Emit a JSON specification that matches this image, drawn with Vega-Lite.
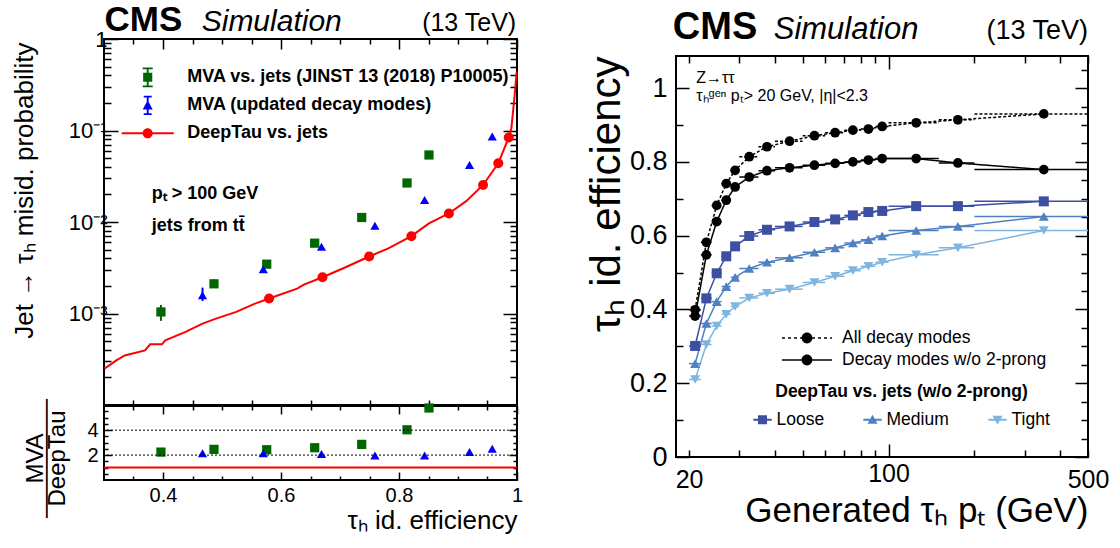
{
  "$schema": "https://vega.github.io/schema/vega-lite/v6.json",
  "background": "white",
  "padding": {"left": 10, "top": 2, "right": 0, "bottom": 0},
  "autosize": {"type": "pad"},
  "datasets": {
    "curve": [
      {"eff": 0.3008, "misid": 0.00025}, {"eff": 0.3208, "misid": 0.000307}, {"eff": 0.3352, "misid": 0.000348},
      {"eff": 0.3695, "misid": 0.000395}, {"eff": 0.3782, "misid": 0.00046}, {"eff": 0.3982, "misid": 0.00046},
      {"eff": 0.4039, "misid": 0.000509}, {"eff": 0.4383, "misid": 0.00063}, {"eff": 0.467, "misid": 0.000776},
      {"eff": 0.4898, "misid": 0.00088}, {"eff": 0.5242, "misid": 0.00104}, {"eff": 0.5529, "misid": 0.00126},
      {"eff": 0.5798, "misid": 0.00146}, {"eff": 0.6273, "misid": 0.00187}, {"eff": 0.6388, "misid": 0.00207},
      {"eff": 0.6703, "misid": 0.00249}, {"eff": 0.7076, "misid": 0.00316}, {"eff": 0.7494, "misid": 0.0042},
      {"eff": 0.782, "misid": 0.00514}, {"eff": 0.821, "misid": 0.007}, {"eff": 0.8508, "misid": 0.00966},
      {"eff": 0.8846, "misid": 0.0124}, {"eff": 0.9139, "misid": 0.0169}, {"eff": 0.9425, "misid": 0.0254},
      {"eff": 0.9683, "misid": 0.0438}, {"eff": 0.986, "misid": 0.084}, {"eff": 0.9905, "misid": 0.106},
      {"eff": 0.9961, "misid": 0.246}, {"eff": 0.9995, "misid": 0.44}
    ],
    "wp": [
      {"eff": 0.5798, "misid": 0.00146}, {"eff": 0.6703, "misid": 0.00249}, {"eff": 0.7494, "misid": 0.0042},
      {"eff": 0.821, "misid": 0.007}, {"eff": 0.8846, "misid": 0.0124}, {"eff": 0.9425, "misid": 0.0254},
      {"eff": 0.9683, "misid": 0.0438}, {"eff": 0.986, "misid": 0.084}
    ],
    "mva": [
      {"series": "MVA vs. jets (JINST 13 (2018) P10005)", "eff": 0.3965, "misid": 0.00104, "lo": 0.00083, "hi": 0.00124, "ratio": 2.24},
      {"series": "MVA vs. jets (JINST 13 (2018) P10005)", "eff": 0.4864, "misid": 0.00211, "lo": 0.0019, "hi": 0.00235, "ratio": 2.46},
      {"series": "MVA vs. jets (JINST 13 (2018) P10005)", "eff": 0.5758, "misid": 0.00346, "lo": 0.0033, "hi": 0.00362, "ratio": 2.43},
      {"series": "MVA vs. jets (JINST 13 (2018) P10005)", "eff": 0.6571, "misid": 0.00587, "lo": 0.0057, "hi": 0.00605, "ratio": 2.59},
      {"series": "MVA vs. jets (JINST 13 (2018) P10005)", "eff": 0.7368, "misid": 0.0112, "lo": 0.0109, "hi": 0.0115, "ratio": 2.86},
      {"series": "MVA vs. jets (JINST 13 (2018) P10005)", "eff": 0.8136, "misid": 0.0267, "lo": 0.026, "hi": 0.0274, "ratio": 4.03},
      {"series": "MVA vs. jets (JINST 13 (2018) P10005)", "eff": 0.8508, "misid": 0.054, "lo": 0.0527, "hi": 0.0553, "ratio": 5.78},
      {"series": "MVA (updated decay modes)", "eff": 0.467, "misid": 0.00158, "lo": 0.00137, "hi": 0.00192, "ratio": 2.14},
      {"series": "MVA (updated decay modes)", "eff": 0.57, "misid": 0.00305, "lo": 0.0029, "hi": 0.0032, "ratio": 2.14},
      {"series": "MVA (updated decay modes)", "eff": 0.6686, "misid": 0.00537, "lo": 0.0052, "hi": 0.00555, "ratio": 2.08},
      {"series": "MVA (updated decay modes)", "eff": 0.7592, "misid": 0.0091, "lo": 0.0089, "hi": 0.0093, "ratio": 1.97},
      {"series": "MVA (updated decay modes)", "eff": 0.8434, "misid": 0.0174, "lo": 0.017, "hi": 0.0178, "ratio": 1.97},
      {"series": "MVA (updated decay modes)", "eff": 0.9195, "misid": 0.042, "lo": 0.0412, "hi": 0.0428, "ratio": 2.24},
      {"series": "MVA (updated decay modes)", "eff": 0.958, "misid": 0.086, "lo": 0.0845, "hi": 0.0875, "ratio": 2.51}
    ],
    "right": [
      {"series": "All decay modes", "pt": 21, "lo": 20, "hi": 22, "eff": 0.399},
      {"series": "All decay modes", "pt": 23, "lo": 22, "hi": 24, "eff": 0.582},
      {"series": "All decay modes", "pt": 25, "lo": 24, "hi": 26, "eff": 0.682},
      {"series": "All decay modes", "pt": 27, "lo": 26, "hi": 28, "eff": 0.741},
      {"series": "All decay modes", "pt": 29, "lo": 28, "hi": 30, "eff": 0.777},
      {"series": "All decay modes", "pt": 32.5, "lo": 30, "hi": 35, "eff": 0.814},
      {"series": "All decay modes", "pt": 37.5, "lo": 35, "hi": 40, "eff": 0.841},
      {"series": "All decay modes", "pt": 45, "lo": 40, "hi": 50, "eff": 0.856},
      {"series": "All decay modes", "pt": 55, "lo": 50, "hi": 60, "eff": 0.871},
      {"series": "All decay modes", "pt": 65, "lo": 60, "hi": 70, "eff": 0.879},
      {"series": "All decay modes", "pt": 75, "lo": 70, "hi": 80, "eff": 0.886},
      {"series": "All decay modes", "pt": 85, "lo": 80, "hi": 90, "eff": 0.889},
      {"series": "All decay modes", "pt": 95, "lo": 90, "hi": 100, "eff": 0.896},
      {"series": "All decay modes", "pt": 125, "lo": 100, "hi": 150, "eff": 0.906},
      {"series": "All decay modes", "pt": 175, "lo": 150, "hi": 200, "eff": 0.914},
      {"series": "All decay modes", "pt": 350, "lo": 200, "hi": 500, "eff": 0.93},
      {"series": "Decay modes w/o 2-prong", "pt": 21, "lo": 20, "hi": 22, "eff": 0.382},
      {"series": "Decay modes w/o 2-prong", "pt": 23, "lo": 22, "hi": 24, "eff": 0.548},
      {"series": "Decay modes w/o 2-prong", "pt": 25, "lo": 24, "hi": 26, "eff": 0.638},
      {"series": "Decay modes w/o 2-prong", "pt": 27, "lo": 26, "hi": 28, "eff": 0.696},
      {"series": "Decay modes w/o 2-prong", "pt": 29, "lo": 28, "hi": 30, "eff": 0.732},
      {"series": "Decay modes w/o 2-prong", "pt": 32.5, "lo": 30, "hi": 35, "eff": 0.759},
      {"series": "Decay modes w/o 2-prong", "pt": 37.5, "lo": 35, "hi": 40, "eff": 0.776},
      {"series": "Decay modes w/o 2-prong", "pt": 45, "lo": 40, "hi": 50, "eff": 0.784},
      {"series": "Decay modes w/o 2-prong", "pt": 55, "lo": 50, "hi": 60, "eff": 0.791},
      {"series": "Decay modes w/o 2-prong", "pt": 65, "lo": 60, "hi": 70, "eff": 0.796},
      {"series": "Decay modes w/o 2-prong", "pt": 75, "lo": 70, "hi": 80, "eff": 0.8},
      {"series": "Decay modes w/o 2-prong", "pt": 85, "lo": 80, "hi": 90, "eff": 0.805},
      {"series": "Decay modes w/o 2-prong", "pt": 95, "lo": 90, "hi": 100, "eff": 0.809},
      {"series": "Decay modes w/o 2-prong", "pt": 125, "lo": 100, "hi": 150, "eff": 0.809},
      {"series": "Decay modes w/o 2-prong", "pt": 175, "lo": 150, "hi": 200, "eff": 0.797},
      {"series": "Decay modes w/o 2-prong", "pt": 350, "lo": 200, "hi": 500, "eff": 0.779},
      {"series": "Loose", "pt": 21, "lo": 20, "hi": 22, "eff": 0.301},
      {"series": "Loose", "pt": 23, "lo": 22, "hi": 24, "eff": 0.43},
      {"series": "Loose", "pt": 25, "lo": 24, "hi": 26, "eff": 0.498},
      {"series": "Loose", "pt": 27, "lo": 26, "hi": 28, "eff": 0.544},
      {"series": "Loose", "pt": 29, "lo": 28, "hi": 30, "eff": 0.571},
      {"series": "Loose", "pt": 32.5, "lo": 30, "hi": 35, "eff": 0.599},
      {"series": "Loose", "pt": 37.5, "lo": 35, "hi": 40, "eff": 0.616},
      {"series": "Loose", "pt": 45, "lo": 40, "hi": 50, "eff": 0.625},
      {"series": "Loose", "pt": 55, "lo": 50, "hi": 60, "eff": 0.637},
      {"series": "Loose", "pt": 65, "lo": 60, "hi": 70, "eff": 0.644},
      {"series": "Loose", "pt": 75, "lo": 70, "hi": 80, "eff": 0.655},
      {"series": "Loose", "pt": 85, "lo": 80, "hi": 90, "eff": 0.664},
      {"series": "Loose", "pt": 95, "lo": 90, "hi": 100, "eff": 0.667},
      {"series": "Loose", "pt": 125, "lo": 100, "hi": 150, "eff": 0.68},
      {"series": "Loose", "pt": 175, "lo": 150, "hi": 200, "eff": 0.68},
      {"series": "Loose", "pt": 350, "lo": 200, "hi": 500, "eff": 0.693},
      {"series": "Medium", "pt": 21, "lo": 20, "hi": 22, "eff": 0.253},
      {"series": "Medium", "pt": 23, "lo": 22, "hi": 24, "eff": 0.362},
      {"series": "Medium", "pt": 25, "lo": 24, "hi": 26, "eff": 0.421},
      {"series": "Medium", "pt": 27, "lo": 26, "hi": 28, "eff": 0.462},
      {"series": "Medium", "pt": 29, "lo": 28, "hi": 30, "eff": 0.487},
      {"series": "Medium", "pt": 32.5, "lo": 30, "hi": 35, "eff": 0.511},
      {"series": "Medium", "pt": 37.5, "lo": 35, "hi": 40, "eff": 0.528},
      {"series": "Medium", "pt": 45, "lo": 40, "hi": 50, "eff": 0.54},
      {"series": "Medium", "pt": 55, "lo": 50, "hi": 60, "eff": 0.555},
      {"series": "Medium", "pt": 65, "lo": 60, "hi": 70, "eff": 0.567},
      {"series": "Medium", "pt": 75, "lo": 70, "hi": 80, "eff": 0.58},
      {"series": "Medium", "pt": 85, "lo": 80, "hi": 90, "eff": 0.589},
      {"series": "Medium", "pt": 95, "lo": 90, "hi": 100, "eff": 0.599},
      {"series": "Medium", "pt": 125, "lo": 100, "hi": 150, "eff": 0.614},
      {"series": "Medium", "pt": 175, "lo": 150, "hi": 200, "eff": 0.625},
      {"series": "Medium", "pt": 350, "lo": 200, "hi": 500, "eff": 0.652},
      {"series": "Tight", "pt": 21, "lo": 20, "hi": 22, "eff": 0.21},
      {"series": "Tight", "pt": 23, "lo": 22, "hi": 24, "eff": 0.305},
      {"series": "Tight", "pt": 25, "lo": 24, "hi": 26, "eff": 0.355},
      {"series": "Tight", "pt": 27, "lo": 26, "hi": 28, "eff": 0.387},
      {"series": "Tight", "pt": 29, "lo": 28, "hi": 30, "eff": 0.408},
      {"series": "Tight", "pt": 32.5, "lo": 30, "hi": 35, "eff": 0.431},
      {"series": "Tight", "pt": 37.5, "lo": 35, "hi": 40, "eff": 0.444},
      {"series": "Tight", "pt": 45, "lo": 40, "hi": 50, "eff": 0.455},
      {"series": "Tight", "pt": 55, "lo": 50, "hi": 60, "eff": 0.473},
      {"series": "Tight", "pt": 65, "lo": 60, "hi": 70, "eff": 0.49},
      {"series": "Tight", "pt": 75, "lo": 70, "hi": 80, "eff": 0.505},
      {"series": "Tight", "pt": 85, "lo": 80, "hi": 90, "eff": 0.517},
      {"series": "Tight", "pt": 95, "lo": 90, "hi": 100, "eff": 0.528},
      {"series": "Tight", "pt": 125, "lo": 100, "hi": 150, "eff": 0.548},
      {"series": "Tight", "pt": 175, "lo": 150, "hi": 200, "eff": 0.567},
      {"series": "Tight", "pt": 350, "lo": 200, "hi": 500, "eff": 0.614}
    ]
  },
  "hconcat": [
    {
      "vconcat": [
        {
          "width": 413,
          "height": 366,
          "layer": [
            {
              "layer": [
                {
                  "data": {"name": "curve"},
                  "mark": {"type": "line", "color": "#ff0000", "strokeWidth": 2},
                  "encoding": {
                    "x": {"field": "eff", "type": "quantitative", "scale": {"domain": [0.3, 1], "nice": false, "zero": false},
                      "axis": {"values": [0.35, 0.4, 0.45, 0.5, 0.55, 0.6, 0.65, 0.7, 0.75, 0.8, 0.85, 0.9, 0.95, 1], "labels": false, "title": null, "labelOverlap": false,
                        "tickSize": {"condition": {"test": "abs(datum.value*5-round(datum.value*5))<0.001", "value": -10}, "value": -5}}},
                    "y": {"field": "misid", "type": "quantitative", "scale": {"type": "log", "domain": [0.0001, 1], "nice": false},
                      "axis": {"values": [0.0001, 0.0002, 0.0003, 0.0004, 0.0005, 0.0006, 0.0007, 0.0008, 0.0009, 0.001, 0.002, 0.003, 0.004, 0.005, 0.006, 0.007, 0.008, 0.009, 0.01, 0.02, 0.03, 0.04, 0.05, 0.06, 0.07, 0.08, 0.09, 0.1, 0.2, 0.3, 0.4, 0.5, 0.6, 0.7, 0.8, 0.9, 1],
                        "labelExpr": "datum.value==1?'1':datum.value==0.1?'10⁻¹':datum.value==0.01?'10⁻²':datum.value==0.001?'10⁻³':''",
                        "labelOverlap": false,
                        "tickSize": {"condition": {"test": "datum.value==1||datum.value==0.1||datum.value==0.01||datum.value==0.001||datum.value==0.0001", "value": -14}, "value": -7},
                        "labelPadding": 11, "labelFontSize": 22,
                        "title": "Jet → τₕ misid. probability", "titleFontSize": 26, "titleAngle": 270, "titleAlign": "right", "titleBaseline": "alphabetic", "titleX": -72, "titleY": 3}}
                  }
                },
                {
                  "data": {"name": "wp"},
                  "mark": {"type": "point", "shape": "circle", "filled": true, "color": "#ff0000", "size": 100, "opacity": 1},
                  "encoding": {"x": {"field": "eff", "type": "quantitative"}, "y": {"field": "misid", "type": "quantitative"}}
                },
                {
                  "data": {"name": "mva"},
                  "transform": [{"filter": "datum.series == 'MVA vs. jets (JINST 13 (2018) P10005)'"}],
                  "mark": {"type": "rule", "color": "#006600", "strokeWidth": 2},
                  "encoding": {"x": {"field": "eff", "type": "quantitative"}, "y": {"field": "lo", "type": "quantitative"}, "y2": {"field": "hi"}}
                },
                {
                  "data": {"name": "mva"},
                  "transform": [{"filter": "datum.series == 'MVA vs. jets (JINST 13 (2018) P10005)'"}],
                  "mark": {"type": "point", "shape": "square", "filled": true, "color": "#006600", "size": 85, "opacity": 1},
                  "encoding": {"x": {"field": "eff", "type": "quantitative"}, "y": {"field": "misid", "type": "quantitative"}}
                },
                {
                  "data": {"name": "mva"},
                  "transform": [{"filter": "datum.series == 'MVA (updated decay modes)'"}],
                  "mark": {"type": "rule", "color": "#0000ff", "strokeWidth": 2},
                  "encoding": {"x": {"field": "eff", "type": "quantitative"}, "y": {"field": "lo", "type": "quantitative"}, "y2": {"field": "hi"}}
                },
                {
                  "data": {"name": "mva"},
                  "transform": [{"filter": "datum.series == 'MVA (updated decay modes)'"}],
                  "mark": {"type": "point", "shape": "triangle-up", "filled": true, "color": "#0000ff", "size": 85, "opacity": 1},
                  "encoding": {"x": {"field": "eff", "type": "quantitative"}, "y": {"field": "misid", "type": "quantitative"}}
                },
                {
                  "data": {"values": [{}]},
                  "mark": {"type": "text", "text": "pₜ > 100 GeV", "fontWeight": "bold", "fontSize": 18, "align": "left", "baseline": "alphabetic"},
                  "encoding": {"x": {"datum": 0.381}, "y": {"datum": 0.018}}
                },
                {
                  "data": {"values": [{}]},
                  "mark": {"type": "text", "text": "jets from tt̄", "fontWeight": "bold", "fontSize": 18, "align": "left", "baseline": "alphabetic"},
                  "encoding": {"x": {"datum": 0.381}, "y": {"datum": 0.00803}}
                },
                {
                  "data": {"values": [{}]},
                  "mark": {"type": "text", "text": "CMS", "fontWeight": "bold", "fontSize": 35, "align": "left", "baseline": "alphabetic"},
                  "encoding": {"x": {"datum": 0.3008}, "y": {"datum": 1.214}}
                },
                {
                  "data": {"values": [{}]},
                  "mark": {"type": "text", "text": "Simulation", "fontStyle": "italic", "fontSize": 30, "align": "left", "baseline": "alphabetic"},
                  "encoding": {"x": {"datum": 0.4656}, "y": {"datum": 1.214}}
                },
                {
                  "data": {"values": [{}]},
                  "mark": {"type": "text", "text": "(13 TeV)", "fontSize": 25, "align": "right", "baseline": "alphabetic"},
                  "encoding": {"x": {"datum": 0.9986}, "y": {"datum": 1.214}}
                }
              ]
            },
            {
              "data": {"name": "mva"},
              "mark": {"type": "point", "filled": true, "opacity": 0},
              "encoding": {
                "x": {"field": "eff", "type": "quantitative",
                  "axis": {"orient": "top", "labels": false, "title": null, "labelOverlap": false, "values": [0.35, 0.4, 0.45, 0.5, 0.55, 0.6, 0.65, 0.7, 0.75, 0.8, 0.85, 0.9, 0.95, 1],
                    "tickSize": {"condition": {"test": "abs(datum.value*5-round(datum.value*5))<0.001", "value": -10}, "value": -5}}},
                "y": {"field": "misid", "type": "quantitative",
                  "axis": {"orient": "right", "labels": false, "title": null, "labelOverlap": false,
                    "values": [0.0001, 0.0002, 0.0003, 0.0004, 0.0005, 0.0006, 0.0007, 0.0008, 0.0009, 0.001, 0.002, 0.003, 0.004, 0.005, 0.006, 0.007, 0.008, 0.009, 0.01, 0.02, 0.03, 0.04, 0.05, 0.06, 0.07, 0.08, 0.09, 0.1, 0.2, 0.3, 0.4, 0.5, 0.6, 0.7, 0.8, 0.9, 1],
                    "tickSize": {"condition": {"test": "datum.value==1||datum.value==0.1||datum.value==0.01||datum.value==0.001||datum.value==0.0001", "value": -14}, "value": -7}}},
                "color": {"field": "series", "type": "nominal",
                  "scale": {"domain": ["MVA vs. jets (JINST 13 (2018) P10005)", "MVA (updated decay modes)", "DeepTau vs. jets"], "range": ["#006600", "#0000ff", "#ff0000"]},
                  "legend": {"orient": "none", "legendX": 31.7, "legendY": 26.3, "title": null, "direction": "vertical", "labelFontSize": 18, "labelFontWeight": "bold", "labelLimit": 1000, "symbolSize": 576, "symbolStrokeWidth": 0, "symbolOpacity": 1, "rowPadding": 6, "labelOffset": 27.6, "padding": 0}},
                "shape": {"field": "series", "type": "nominal",
                  "scale": {"domain": ["MVA vs. jets (JINST 13 (2018) P10005)", "MVA (updated decay modes)", "DeepTau vs. jets"],
                    "range": [
                      "M-0.38,-0.38H0.38V0.38H-0.38Z M-0.08,-0.82H0.08V0.82H-0.08Z M-0.42,-0.82H0.42V-0.68H-0.42Z M-0.42,0.68H0.42V0.82H-0.42Z",
                      "M0,-0.42L0.42,0.34H-0.42Z M-0.08,-0.8H0.08V0.8H-0.08Z M-0.33,-0.8H0.33V-0.66H-0.33Z M-0.33,0.66H0.33V0.8H-0.33Z",
                      "M-2.17,-0.085H2.17V0.085H-2.17Z M0.42,0A0.42,0.42,0,1,1,-0.42,0A0.42,0.42,0,1,1,0.42,0Z"
                    ]},
                  "legend": {"orient": "none", "legendX": 31.7, "legendY": 26.3, "title": null, "direction": "vertical", "labelFontSize": 18, "labelFontWeight": "bold", "labelLimit": 1000, "symbolSize": 576, "symbolStrokeWidth": 0, "symbolOpacity": 1, "rowPadding": 6, "labelOffset": 27.6, "padding": 0}}
              }
            }
          ],
          "resolve": {"axis": {"x": "independent", "y": "independent"}}
        },
        {
          "width": 413,
          "height": 74,
          "layer": [
            {
              "layer": [
                {
                  "data": {"name": "mva"},
                  "transform": [{"filter": "datum.series == 'MVA vs. jets (JINST 13 (2018) P10005)'"}],
                  "mark": {"type": "point", "shape": "square", "filled": true, "color": "#006600", "size": 85, "opacity": 1},
                  "encoding": {
                    "x": {"field": "eff", "type": "quantitative", "scale": {"domain": [0.3, 1], "nice": false, "zero": false},
                      "axis": {"values": [0.4, 0.6, 0.8, 1], "format": ".1~f",
                        "labelOverlap": false,
                        "tickSize": -8,
                        "labelPadding": 13, "labelFontSize": 20,
                        "title": "τₕ id. efficiency", "titleFontSize": 26, "titleX": 413, "titleY": 48, "titleAlign": "right", "titleBaseline": "alphabetic"}},
                    "y": {"field": "ratio", "type": "quantitative", "scale": {"domain": [0, 5.94], "nice": false, "zero": false},
                      "axis": {"values": [2, 4], "format": "d",
                        "labelOverlap": false,
                        "tickSize": -8,
                        "labelPadding": 14, "labelFontSize": 20,
                        "title": ["MVA", "───────", "DeepTau"], "titleFontSize": 24, "titleLineHeight": 11, "titleAngle": 270, "titleAlign": "center", "titleBaseline": "middle", "titleX": -69, "titleY": 52}}
                  }
                },
                {
                  "data": {"name": "mva"},
                  "transform": [{"filter": "datum.series == 'MVA (updated decay modes)'"}],
                  "mark": {"type": "point", "shape": "triangle-up", "filled": true, "color": "#0000ff", "size": 85, "opacity": 1},
                  "encoding": {"x": {"field": "eff", "type": "quantitative"}, "y": {"field": "ratio", "type": "quantitative"}}
                },
                {
                  "data": {"values": [{}]},
                  "mark": {"type": "rule", "color": "black", "strokeWidth": 1, "strokeDash": [2, 2]},
                  "encoding": {"y": {"datum": 2}}
                },
                {
                  "data": {"values": [{}]},
                  "mark": {"type": "rule", "color": "black", "strokeWidth": 1, "strokeDash": [2, 2]},
                  "encoding": {"y": {"datum": 4}}
                },
                {
                  "data": {"values": [{}]},
                  "mark": {"type": "rule", "color": "#ff0000", "strokeWidth": 2},
                  "encoding": {"y": {"datum": 1}}
                }
              ]
            },
            {
              "data": {"name": "mva"},
              "mark": {"type": "point", "opacity": 0},
              "encoding": {
                "x": {"field": "eff", "type": "quantitative",
                  "axis": {"orient": "top", "labels": false, "title": null, "labelOverlap": false, "values": [0.35, 0.4, 0.45, 0.5, 0.55, 0.6, 0.65, 0.7, 0.75, 0.8, 0.85, 0.9, 0.95, 1],
                    "tickSize": {"condition": {"test": "abs(datum.value*5-round(datum.value*5))<0.001", "value": -8}, "value": -4}}},
                "y": {"field": "ratio", "type": "quantitative",
                  "axis": {"orient": "right", "labels": false, "title": null, "labelOverlap": false, "values": [0.5, 1, 1.5, 2, 2.5, 3, 3.5, 4, 4.5, 5, 5.5],
                    "tickSize": {"condition": {"test": "datum.value==2||datum.value==4", "value": -8}, "value": -4}}}
              }
            },
            {
              "data": {"name": "mva"},
              "mark": {"type": "point", "opacity": 0},
              "encoding": {
                "x": {"field": "eff", "type": "quantitative",
                  "axis": {"orient": "bottom", "labels": false, "title": null, "labelOverlap": false, "values": [0.35, 0.45, 0.5, 0.55, 0.65, 0.7, 0.75, 0.85, 0.9, 0.95], "tickSize": -4}},
                "y": {"field": "ratio", "type": "quantitative",
                  "axis": {"orient": "left", "labels": false, "title": null, "labelOverlap": false, "values": [0.5, 1, 1.5, 2.5, 3, 3.5, 4.5, 5, 5.5], "tickSize": -4}}
              }
            }
          ],
          "resolve": {"axis": {"x": "independent", "y": "independent"}}
        }
      ],
      "spacing": 1,
      "bounds": "flush"
    },
    {
      "vconcat": [
        {
          "width": 412,
          "height": 17,
          "data": {"values": []},
          "mark": "point",
          "encoding": {},
          "view": {"stroke": null}
        },
        {
          "width": 412,
          "height": 401,
          "layer": [
            {
              "layer": [
                {
                  "data": {"name": "right"},
                  "transform": [{"filter": "datum.series == 'All decay modes' || datum.series == 'Decay modes w/o 2-prong'"}],
                  "mark": {"type": "line", "color": "black", "strokeWidth": 1.5},
                  "encoding": {
                    "x": {"field": "pt", "type": "quantitative", "scale": {"type": "log", "domain": [18, 500], "nice": false},
                      "axis": {"values": [20, 30, 40, 50, 60, 70, 80, 90, 100, 200, 300, 400, 500],
                        "labelExpr": "datum.value==20?'20':datum.value==100?'100':datum.value==500?'500':''",
                        "labelOverlap": false,
                        "tickSize": {"condition": {"test": "datum.value==100", "value": -13}, "value": -7},
                        "labelPadding": 17, "labelFontSize": 25,
                        "title": "Generated τₕ pₜ (GeV)", "titleFontSize": 35, "titleX": 412, "titleY": 64, "titleAlign": "right", "titleBaseline": "alphabetic"}},
                    "y": {"field": "eff", "type": "quantitative", "scale": {"domain": [0, 1.087], "nice": false, "zero": false},
                      "axis": {"values": [0, 0.05, 0.1, 0.15, 0.2, 0.25, 0.3, 0.35, 0.4, 0.45, 0.5, 0.55, 0.6, 0.65, 0.7, 0.75, 0.8, 0.85, 0.9, 0.95, 1, 1.05],
                        "labelExpr": "abs(datum.value*5-round(datum.value*5))<0.001 ? (datum.value==0?'0':datum.value==1?'1':format(datum.value,'.1f')) : ''",
                        "labelOverlap": false,
                        "tickSize": {"condition": {"test": "abs(datum.value*5-round(datum.value*5))<0.001", "value": -13}, "value": -7},
                        "labelPadding": 22, "labelFontSize": 27,
                        "title": "τₕ id. efficiency", "titleFontSize": 42, "titleAngle": 270, "titleAlign": "right", "titleBaseline": "alphabetic", "titleX": -57, "titleY": 0}},
                    "strokeDash": {"field": "series", "type": "nominal", "scale": {"domain": ["All decay modes", "Decay modes w/o 2-prong"], "range": [[3, 2], [1, 0]]}, "legend": null}
                  }
                },
                {
                  "data": {"name": "right"},
                  "transform": [{"filter": "datum.series == 'All decay modes' || datum.series == 'Decay modes w/o 2-prong'"}],
                  "mark": {"type": "rule", "color": "black", "strokeWidth": 1.5},
                  "encoding": {
                    "x": {"field": "lo", "type": "quantitative"}, "x2": {"field": "hi"}, "y": {"field": "eff", "type": "quantitative"},
                    "strokeDash": {"field": "series", "type": "nominal", "legend": null}
                  }
                },
                {
                  "data": {"name": "right"},
                  "transform": [{"filter": "datum.series == 'All decay modes' || datum.series == 'Decay modes w/o 2-prong'"}],
                  "mark": {"type": "point", "shape": "circle", "filled": true, "color": "black", "size": 95, "opacity": 1},
                  "encoding": {"x": {"field": "pt", "type": "quantitative"}, "y": {"field": "eff", "type": "quantitative"}}
                },
                {
                  "data": {"name": "right"},
                  "transform": [{"filter": "datum.series == 'Loose' || datum.series == 'Medium' || datum.series == 'Tight'"}],
                  "mark": {"type": "line", "strokeWidth": 1.5},
                  "encoding": {
                    "x": {"field": "pt", "type": "quantitative"}, "y": {"field": "eff", "type": "quantitative"},
                    "color": {"field": "series", "type": "nominal", "scale": {"domain": ["Loose", "Medium", "Tight"], "range": ["#3c4fa2", "#4f80c2", "#7fb5df"]}, "legend": null}
                  }
                },
                {
                  "data": {"name": "right"},
                  "transform": [{"filter": "datum.series == 'Loose' || datum.series == 'Medium' || datum.series == 'Tight'"}],
                  "mark": {"type": "rule", "strokeWidth": 1.5},
                  "encoding": {
                    "x": {"field": "lo", "type": "quantitative"}, "x2": {"field": "hi"}, "y": {"field": "eff", "type": "quantitative"},
                    "color": {"field": "series", "type": "nominal", "legend": null}
                  }
                },
                {
                  "data": {"name": "right"},
                  "transform": [{"filter": "datum.series == 'Loose' || datum.series == 'Medium' || datum.series == 'Tight'"}],
                  "mark": {"type": "point", "filled": true, "size": 100, "opacity": 1},
                  "encoding": {
                    "x": {"field": "pt", "type": "quantitative"}, "y": {"field": "eff", "type": "quantitative"},
                    "color": {"field": "series", "type": "nominal", "legend": null},
                    "shape": {"field": "series", "type": "nominal", "scale": {"domain": ["Loose", "Medium", "Tight"], "range": ["square", "triangle-up", "triangle-down"]}, "legend": null}
                  }
                },
                {
                  "data": {"values": [{}]},
                  "mark": {"type": "text", "text": "CMS", "fontWeight": "bold", "fontSize": 38, "align": "left", "baseline": "alphabetic"},
                  "encoding": {"x": {"datum": 17.54}, "y": {"datum": 1.133}}
                },
                {
                  "data": {"values": [{}]},
                  "mark": {"type": "text", "text": "Simulation", "fontStyle": "italic", "fontSize": 31, "align": "left", "baseline": "alphabetic"},
                  "encoding": {"x": {"datum": 39.6}, "y": {"datum": 1.133}}
                },
                {
                  "data": {"values": [{}]},
                  "mark": {"type": "text", "text": "(13 TeV)", "fontSize": 27, "align": "right", "baseline": "alphabetic"},
                  "encoding": {"x": {"datum": 500}, "y": {"datum": 1.133}}
                },
                {
                  "data": {"values": [{}]},
                  "mark": {"type": "text", "text": "Z→ττ", "fontSize": 16, "align": "left", "baseline": "middle"},
                  "encoding": {"x": {"datum": 21.2}, "y": {"datum": 1.027}}
                },
                {
                  "data": {"values": [{}]},
                  "mark": {"type": "text", "text": "τₕᵍᵉⁿ pₜ> 20 GeV, |η|<2.3", "fontSize": 16, "align": "left", "baseline": "middle"},
                  "encoding": {"x": {"datum": 21.2}, "y": {"datum": 0.979}}
                }
              ]
            },
            {
              "data": {"name": "right"},
              "mark": {"type": "point", "filled": true, "opacity": 0, "color": "black"},
              "encoding": {
                "x": {"field": "pt", "type": "quantitative",
                  "axis": {"orient": "top", "labels": false, "title": null, "labelOverlap": false, "values": [20, 30, 40, 50, 60, 70, 80, 90, 100, 200, 300, 400, 500],
                    "tickSize": {"condition": {"test": "datum.value==100", "value": -13}, "value": -7}}},
                "y": {"field": "eff", "type": "quantitative",
                  "axis": {"orient": "right", "labels": false, "title": null, "labelOverlap": false, "values": [0, 0.05, 0.1, 0.15, 0.2, 0.25, 0.3, 0.35, 0.4, 0.45, 0.5, 0.55, 0.6, 0.65, 0.7, 0.75, 0.8, 0.85, 0.9, 0.95, 1, 1.05],
                    "tickSize": {"condition": {"test": "abs(datum.value*5-round(datum.value*5))<0.001", "value": -13}, "value": -7}}},
                "shape": {"field": "series", "type": "nominal",
                  "scale": {"domain": ["All decay modes", "Decay modes w/o 2-prong"],
                    "range": [
                      "M-2.08,-0.06H-1.83V0.06H-2.08Z M-1.58,-0.06H-1.33V0.06H-1.58Z M-1.08,-0.06H-0.83V0.06H-1.08Z M-0.58,-0.06H-0.33V0.06H-0.58Z M0.42,-0.06H0.67V0.06H0.42Z M0.92,-0.06H1.17V0.06H0.92Z M1.42,-0.06H1.67V0.06H1.42Z M1.92,-0.06H2.08V0.06H1.92Z M0.45,0A0.45,0.45,0,1,1,-0.45,0A0.45,0.45,0,1,1,0.45,0Z",
                      "M-2.08,-0.06H2.08V0.06H-2.08Z M0.45,0A0.45,0.45,0,1,1,-0.45,0A0.45,0.45,0,1,1,0.45,0Z"
                    ]},
                  "legend": {"orient": "none", "legendX": 119, "legendY": 270, "title": null, "direction": "vertical", "labelFontSize": 17.5, "labelLimit": 1000, "symbolSize": 576, "symbolFillColor": "black", "symbolStrokeWidth": 0, "symbolOpacity": 1, "rowPadding": 1, "labelOffset": 23, "padding": 0}}
              }
            },
            {
              "data": {"name": "right"},
              "mark": {"type": "point", "filled": true, "opacity": 0},
              "encoding": {
                "x": {"field": "pt", "type": "quantitative", "axis": null},
                "y": {"field": "eff", "type": "quantitative", "axis": null},
                "color": {"field": "series", "type": "nominal", "scale": {"domain": ["Loose", "Medium", "Tight"], "range": ["#3c4fa2", "#4f80c2", "#7fb5df"]},
                  "legend": {"orient": "none", "legendX": 76.5, "legendY": 327, "title": "DeepTau vs. jets (w/o 2-prong)", "titleFontSize": 17.5, "titleFontWeight": "bold", "titleAnchor": "middle", "titlePadding": 9, "titleLimit": 1000, "direction": "horizontal", "columns": 3, "columnPadding": 38, "labelFontSize": 17.5, "labelLimit": 1000, "symbolSize": 400, "symbolStrokeWidth": 0, "symbolOpacity": 1, "labelOffset": 4, "padding": 0}},
                "shape": {"field": "series", "type": "nominal",
                  "scale": {"domain": ["Loose", "Medium", "Tight"],
                    "range": [
                      "M-0.92,-0.1H0.92V0.1H-0.92Z M-0.45,-0.45H0.45V0.45H-0.45Z",
                      "M-0.92,-0.1H0.92V0.1H-0.92Z M0,-0.5L0.5,0.4H-0.5Z",
                      "M-0.92,-0.1H0.92V0.1H-0.92Z M-0.5,-0.4H0.5L0,0.5Z"
                    ]},
                  "legend": {"orient": "none", "legendX": 76.5, "legendY": 327, "title": "DeepTau vs. jets (w/o 2-prong)", "titleFontSize": 17.5, "titleFontWeight": "bold", "titleAnchor": "middle", "titlePadding": 9, "titleLimit": 1000, "direction": "horizontal", "columns": 3, "columnPadding": 38, "labelFontSize": 17.5, "labelLimit": 1000, "symbolSize": 400, "symbolStrokeWidth": 0, "symbolOpacity": 1, "labelOffset": 4, "padding": 0}}
              }
            }
          ],
          "resolve": {"axis": {"x": "independent", "y": "independent"}, "scale": {"color": "independent", "shape": "independent"}}
        }
      ],
      "spacing": 0,
      "bounds": "flush"
    }
  ],
  "spacing": 572,
  "bounds": "flush",
  "config": {
    "font": "Liberation Sans",
    "view": {"stroke": "black", "strokeWidth": 2},
    "axis": {"domain": false, "grid": false, "labelFont": "Liberation Sans", "titleFont": "Liberation Sans", "labelColor": "black", "titleColor": "black", "tickColor": "black", "tickWidth": 1.5, "labelFlush": false, "labelOverlap": false, "titleFontWeight": "normal"},
    "legend": {"labelFont": "Liberation Sans", "titleFont": "Liberation Sans", "labelColor": "black", "titleColor": "black"},
    "text": {"font": "Liberation Sans", "color": "black"}
  }
}
